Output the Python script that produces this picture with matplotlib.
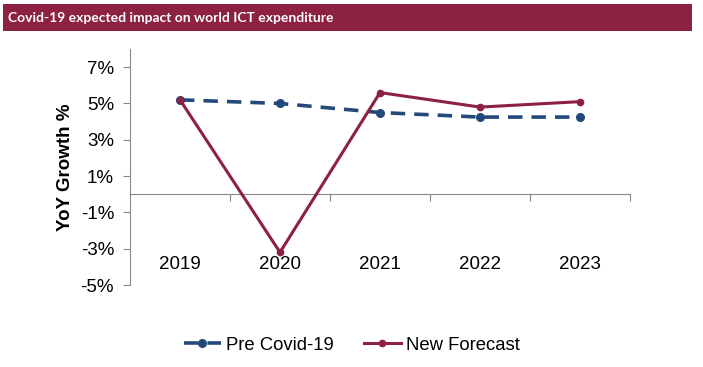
import matplotlib
matplotlib.use("Agg")
import matplotlib.pyplot as plt
from matplotlib.patches import Rectangle

years = ["2019", "2020", "2021", "2022", "2023"]
pre_covid = [5.2, 5.0, 4.5, 4.25, 4.25]
new_forecast = [5.2, -3.2, 5.6, 4.8, 5.1]
y_ticks = [-5, -3, -1, 1, 3, 5, 7]
y_tick_labels = ["-5%", "-3%", "-1%", "1%", "3%", "5%", "7%"]
title = "Covid-19 expected impact on world ICT expenditure"

plt.rcParams['font.family'] = ['Liberation Sans', 'DejaVu Sans']

fig = plt.figure(figsize=(7.03, 3.67), dpi=100)
# title bar
fig.patches.append(Rectangle((3/703, 1 - 31/367), 689/703, 27/367, transform=fig.transFigure,
                             facecolor="#8C2141", edgecolor="none"))
fig.text(8/703, 1 - 17.5/367, title, color="white", fontsize=10, fontweight="bold",
         family="Lato", va="center", ha="left")

ax = fig.add_axes([130/703, (367-285)/367, 500/703, 236/367])
x = list(range(len(years)))
blue = "#23497A"
red = "#8C2141"
ax.plot(x, pre_covid, color=blue, lw=2.6, ls=(0, (4, 2.5)), marker="o", ms=5.5,
        label="Pre Covid-19", zorder=3)
ax.plot(x, new_forecast, color=red, lw=2.2, marker="o", ms=4.5,
        label="New Forecast", zorder=4)

ax.set_xlim(-0.5, 4.5)
ax.set_ylim(-5, 8)
ax.set_yticks(y_ticks)
ax.set_yticklabels(y_tick_labels, fontsize=13.5)
for s in ["top", "right"]:
    ax.spines[s].set_visible(False)
ax.spines["left"].set_color("#888888")
ax.spines["bottom"].set_color("#888888")
ax.spines["bottom"].set_position(("data", 0))
ax.set_xticks([i + 0.5 for i in x])
ax.set_xticklabels([])
ax.tick_params(axis="x", length=5, color="#888888", direction="out")
ax.tick_params(axis="y", length=5, color="#888888", direction="out", pad=6.5)
for i, yr in zip(x, years):
    ax.text(i, -3.88, yr, ha="center", va="center", fontsize=13.5)

ax.set_ylabel("YoY Growth %", fontsize=13.5, fontweight="bold", labelpad=5)

leg = fig.legend(loc="center", bbox_to_anchor=(352/703, 1 - 345/367), ncol=2, frameon=False,
                 fontsize=13.3, handlelength=2.0, columnspacing=1.6, handletextpad=0.3)

fig.savefig("out.png", dpi=100)
